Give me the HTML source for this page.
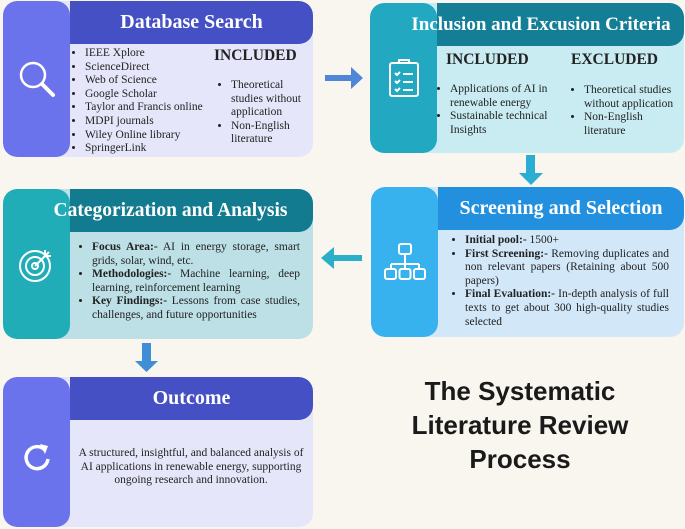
<!DOCTYPE html><html><head><style>
body{margin:0;width:685px;height:529px;background:#f8f6ee;position:relative;overflow:hidden;font-family:"Liberation Serif",serif;}
.box{position:absolute;border-radius:14px;overflow:hidden;}
.panel{position:absolute;left:0;top:0;bottom:0;width:67px;border-radius:14px;}
.hdr{position:absolute;left:67px;right:0;top:0;height:43px;border-radius:0 14px 14px 0;color:#fff;font-weight:bold;font-size:19px;text-align:center;line-height:43px;}
.ic{position:absolute;left:0;top:0;bottom:0;width:67px;display:flex;align-items:center;justify-content:center;}
ul{margin:0;padding-left:14px;}
.t{position:absolute;font-size:11.5px;line-height:13.6px;color:#222;}
.j{text-align:justify;}
h4{margin:0;font-size:15.5px;}
</style></head><body>

<!-- Box1 -->
<div class="box" style="left:3px;top:1px;width:310px;height:156px;background:#e6e6fa;">
<div class="panel" style="background:#6a73ec;"></div>
<div class="hdr" style="background:#4450c4;font-size:20px;">Database Search</div>
<div class="ic"><svg width="40" height="40" viewBox="0 0 40 40" fill="none" stroke="#fff" stroke-width="2.5"><circle cx="16" cy="16" r="12"/><path d="M25 25l11 11" stroke-width="4" stroke-linecap="round"/></svg></div>
<div class="t" style="left:68px;top:46px;"><ul style="padding-left:14px"><li>IEEE Xplore</li><li>ScienceDirect</li><li>Web of Science</li><li>Google Scholar</li><li>Taylor and Francis online</li><li>MDPI journals</li><li>Wiley Online library</li><li>SpringerLink</li></ul></div>
<div class="t" style="left:211px;top:48px;"><h4>INCLUDED</h4></div>
<div class="t" style="left:214px;top:78px;width:90px;"><ul><li>Theoretical studies without application</li><li>Non-English literature</li></ul></div>
</div>

<!-- Box2 -->
<div class="box" style="left:370px;top:3px;width:314px;height:150px;background:#c8ecf2;">
<div class="panel" style="background:#22a8c0;"></div>
<div class="hdr" style="background:#147e96;left:67px;">&nbsp;</div>
<div style="position:absolute;left:28px;right:0;top:0;height:43px;line-height:43px;color:#fff;font-weight:bold;font-size:19px;text-align:center;white-space:nowrap;">Inclusion and Excusion Criteria</div>
<div class="ic"><svg width="34" height="40" viewBox="0 0 34 40" fill="none" stroke="#fff" stroke-width="2"><rect x="3" y="5" width="28" height="33" rx="2"/><path d="M12 5v-3h10v3"/><path d="M8 15l2 2 3-3M8 23l2 2 3-3M8 31l2 2 3-3M16 16h10M16 24h10M16 32h10"/></svg></div>
<div class="t" style="left:76px;top:50px;"><h4>INCLUDED</h4></div>
<div class="t" style="left:201px;top:50px;"><h4>EXCLUDED</h4></div>
<div class="t" style="left:66px;top:80px;width:128px;"><ul><li>Applications of AI in renewable energy</li><li>Sustainable technical Insights</li></ul></div>
<div class="t" style="left:200px;top:81px;width:108px;"><ul><li>Theoretical studies without application</li><li>Non-English literature</li></ul></div>
</div>

<!-- Box3 -->
<div class="box" style="left:3px;top:189px;width:310px;height:150px;background:#bce0e6;">
<div class="panel" style="background:#20adb8;"></div>
<div class="hdr" style="background:#137b90;">&nbsp;</div>
<div style="position:absolute;left:25px;right:0;top:0;height:43px;line-height:43px;color:#fff;font-weight:bold;font-size:19.5px;text-align:center;">Categorization and Analysis</div>
<div class="ic"><svg width="40" height="40" viewBox="0 0 40 40" fill="none" stroke="#fff" stroke-width="2"><circle cx="18" cy="22" r="15"/><circle cx="18" cy="22" r="9"/><circle cx="18" cy="22" r="3"/><path d="M18 22l14-14M28 6v6h6"/></svg></div>
<div class="t j" style="left:75px;top:52px;width:222px;"><ul><li><b>Focus Area:-</b> AI in energy storage, smart grids, solar, wind, etc.</li><li><b>Methodologies:-</b> Machine learning, deep learning, reinforcement learning</li><li><b>Key Findings:-</b> Lessons from case studies, challenges, and future opportunities</li></ul></div>
</div>

<!-- Box4 -->
<div class="box" style="left:371px;top:187px;width:313px;height:150px;background:#d2e7f8;">
<div class="panel" style="background:#38b2ee;"></div>
<div class="hdr" style="background:#2290df;font-size:20px;">Screening and Selection</div>
<div class="ic"><svg width="44" height="40" viewBox="0 0 44 40" fill="none" stroke="#fff" stroke-width="2"><rect x="16" y="2" width="12" height="10" rx="2"/><path d="M22 12v10M8 22h28M8 22v5M22 22v5M36 22v5"/><rect x="2" y="27" width="11" height="10" rx="2"/><rect x="16.5" y="27" width="11" height="10" rx="2"/><rect x="31" y="27" width="11" height="10" rx="2"/></svg></div>
<div class="t j" style="left:80px;top:47px;width:218px;"><ul><li><b>Initial pool:-</b> 1500+</li><li><b>First Screening:-</b> Removing duplicates and non relevant papers (Retaining about 500 papers)</li><li><b>Final Evaluation:-</b> In-depth analysis of full texts to get about 300 high-quality studies selected</li></ul></div>
</div>

<!-- Box5 -->
<div class="box" style="left:3px;top:377px;width:310px;height:150px;background:#e6e6fa;">
<div class="panel" style="background:#6a73ec;"></div>
<div class="hdr" style="background:#4450c4;font-size:20px;">Outcome</div>
<div class="ic" style="padding-top:10px"><svg width="32" height="32" viewBox="0 0 32 32" fill="none" stroke="#fff" stroke-width="3.5"><path d="M24 9A11 11 0 1 0 27 18"/><path d="M19 3l8 2-3 8z" fill="#fff" stroke="none"/></svg></div>
<div class="t" style="left:74px;top:70px;width:228px;text-align:center;">A structured, insightful, and balanced analysis of AI applications in renewable energy, supporting ongoing research and innovation.</div>
</div>

<!-- Arrows -->
<svg style="position:absolute;left:0;top:0" width="685" height="529">
<path d="M325 75h26v-8l12 11-12 11v-8h-26z" fill="#4f86d8"/>
<path d="M526 155h9v18h8l-12 12-12-12h7z" fill="#2aaed4"/>
<path d="M362 255h-28v-8l-13 11 13 11v-8h28z" fill="#29b0c8"/>
<path d="M142 343h9v18h7l-11.5 11-11.5-11h7z" fill="#3f8ed6"/>
</svg>

<div style="position:absolute;left:380px;top:374px;width:280px;text-align:center;font-family:'Liberation Sans',sans-serif;font-weight:bold;font-size:26px;line-height:34px;color:#1a1a1a;">The Systematic Literature Review Process</div>
</body></html>
